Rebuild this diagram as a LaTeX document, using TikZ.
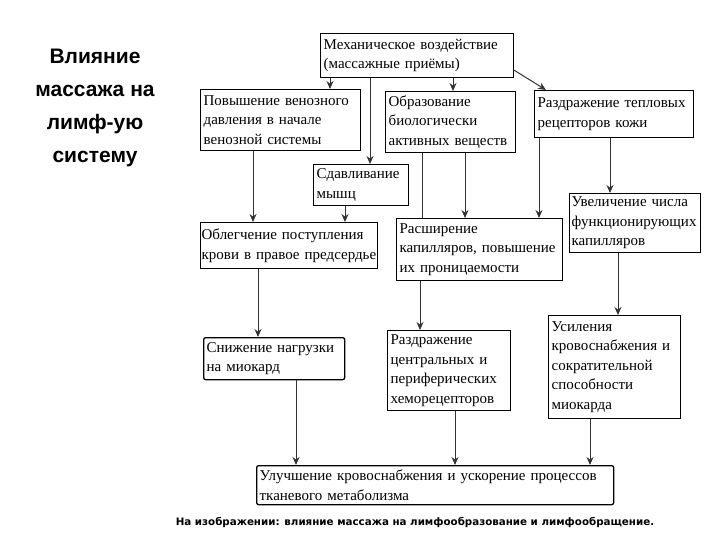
\documentclass[tikz,border=0pt]{standalone}
\usepackage{fontspec}
\setmainfont{Liberation Serif}
\newfontfamily\titlefont{Liberation Sans}
\newfontfamily\capfont{DejaVu Sans}
\usetikzlibrary{arrows.meta,calc}
\begin{document}
\begin{tikzpicture}[x=1pt,y=-1pt,
  bx/.style={draw,line width=1.3pt,anchor=north west,inner sep=3pt,align=left,
    font=\fontsize{15}{19.5}\selectfont},
  rbx/.style={bx,rounded corners=2pt},
  arr/.style={draw,line width=1pt,-{Stealth[length=8pt,width=7pt]},gray!40!black},
  ln/.style={draw,line width=1pt,gray!40!black}]
\useasboundingbox (0,0) rectangle (720,540);
\node[align=center,font=\titlefont\bfseries\fontsize{21}{33}\selectfont] (title) at (95,108)
  {Влияние\\массажа на\\лимф-ую\\систему};
\node[bx,minimum width=193,minimum height=44,text width=187] (top) at (320,33)
  {Механическое воздействие\\(массажные приёмы)};
\node[bx,minimum width=160,minimum height=61,text width=154] (A) at (200,89)
  {Повышение венозного\\давления в начале\\венозной системы};
\node[bx,minimum width=130,minimum height=61,text width=124] (B) at (385,91)
  {Образование\\биологически\\активных веществ};
\node[bx,minimum width=159,minimum height=47,text width=153] (C) at (534,90)
  {Раздражение тепловых\\рецепторов кожи};
\node[bx,minimum width=95,minimum height=41,text width=89] (D) at (313,164)
  {Сдавливание\\мышц};
\node[bx,inner xsep=1pt,minimum width=177,minimum height=46,text width=175] (E) at (200,222)
  {Облегчение поступления\\крови в правое предсердье};
\node[bx,minimum width=166,minimum height=62,text width=160] (F) at (396,218)
  {Расширение\\капилляров, повышение\\их проницаемости};
\node[bx,inner xsep=2pt,minimum width=131,minimum height=59,text width=127] (G) at (569,193)
  {Увеличение числа\\функционирующих\\капилляров};
\node[rbx,minimum width=141,minimum height=42,text width=135] (H) at (203,337)
  {Снижение нагрузки\\на миокард};
\node[bx,minimum width=123,minimum height=80,text width=117] (I) at (387,330)
  {Раздражение\\центральных и\\периферических\\хеморецепторов};
\node[bx,minimum width=132,minimum height=103,text width=126] (J) at (548,315)
  {Усиления\\кровоснабжения и\\сократительной\\способности\\миокарда};
\node[rbx,minimum width=357,minimum height=39,text width=351] (K) at (256,465)
  {Улучшение кровоснабжения и ускорение процессов\\тканевого метаболизма};
\node[font=\capfont\bfseries\fontsize{10.3}{12}\selectfont] (cap) at (415,522)
  {На изображении: влияние массажа на лимфообразование и лимфообращение.};
\draw[arr] (330,0 |- top.south) -- (330,0 |- A.north);
\draw[arr] (370,0 |- top.south) -- (370,0 |- D.north);
\draw[arr] (453,0 |- top.south) -- (453,0 |- B.north);
\draw[arr] ($(top.south east)+(0,-8)$) -- ($(C.north west)+(12,0)$);
\draw[arr] (253,0 |- A.south) -- (253,0 |- E.north);
\draw[arr] (345,0 |- D.south) -- (345,0 |- E.north);
\draw[ln] (422,0 |- B.south) -- (422,0 |- F.north);
\draw[arr] (465,0 |- B.south) -- (465,0 |- F.north);
\draw[arr] (539,0 |- C.south) -- (539,0 |- F.north);
\draw[arr] (610,0 |- C.south) -- (610,0 |- G.north);
\draw[arr] (258,0 |- E.south) -- (258,0 |- H.north);
\draw[arr] (420,0 |- F.south) -- (420,0 |- I.north);
\draw[arr] (618,0 |- G.south) -- (618,0 |- J.north);
\draw[arr] (296,0 |- H.south) -- (296,0 |- K.north);
\draw[arr] (455,0 |- I.south) -- (455,0 |- K.north);
\draw[arr] (590,0 |- J.south) -- (590,0 |- K.north);
\end{tikzpicture}
\end{document}
